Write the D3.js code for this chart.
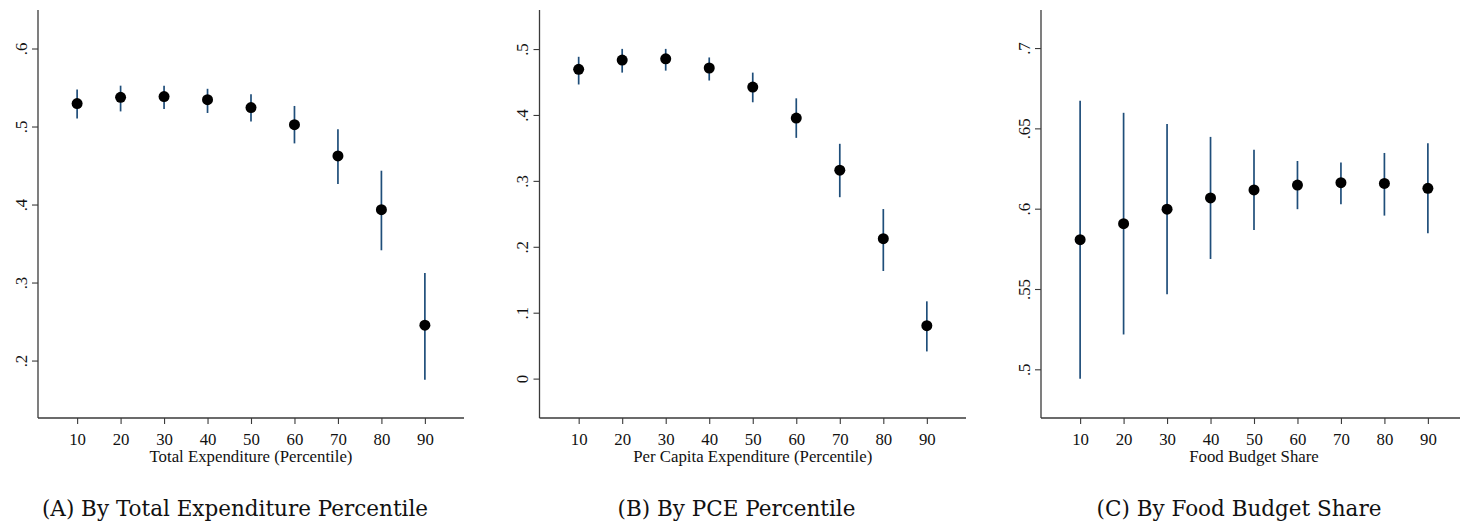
<!DOCTYPE html>
<html>
<head>
<meta charset="utf-8">
<script src="https://cdn.jsdelivr.net/npm/d3@7"></script>
<style>
  body { margin: 0; background: #fff; }
  svg { display: block; }
</style>
</head>
<body>
<svg id="fig" width="1460" height="522"></svg>
<script>
const svg = d3.select("svg#fig");

// percentile bins shared by all three panels
const bins = [10, 20, 30, 40, 50, 60, 70, 80, 90];

// (A) total expenditure percentile
const totEst = [0.530, 0.538, 0.539, 0.535, 0.525, 0.503, 0.463, 0.394, 0.246];
const totLo  = [0.511, 0.520, 0.523, 0.518, 0.507, 0.479, 0.427, 0.342, 0.176];
const totHi  = [0.548, 0.553, 0.553, 0.549, 0.542, 0.527, 0.497, 0.444, 0.313];

// (B) per capita expenditure percentile
const pceEst = [0.470, 0.484, 0.486, 0.472, 0.443, 0.396, 0.317, 0.213, 0.081];
const pceLo  = [0.447, 0.465, 0.468, 0.453, 0.420, 0.366, 0.276, 0.164, 0.042];
const pceHi  = [0.489, 0.501, 0.501, 0.488, 0.465, 0.426, 0.357, 0.258, 0.118];

// (C) food budget share
const foodEst = [0.581, 0.591, 0.600, 0.607, 0.612, 0.615, 0.6165, 0.616, 0.613];
const foodLo  = [0.4945, 0.522, 0.547, 0.569, 0.587, 0.600, 0.603, 0.596, 0.585];
const foodHi  = [0.6675, 0.660, 0.653, 0.645, 0.637, 0.630, 0.629, 0.635, 0.641];

const totTicks  = [0.2, 0.3, 0.4, 0.5, 0.6];
const pceTicks  = [0, 0.1, 0.2, 0.3, 0.4, 0.5];
const foodTicks = [0.5, 0.55, 0.6, 0.65, 0.7];

const xTitles = ["Total Expenditure (Percentile)", "Per Capita Expenditure (Percentile)", "Food Budget Share"];
const captions = ["(A) By Total Expenditure Percentile", "(B) By PCE Percentile", "(C) By Food Budget Share"];

const panels = [
  {left: 38,    right: 464,  ydom: [0.127, 0.65],  ticks: totTicks,  est: totEst,  lo: totLo,  hi: totHi,  cap: 235},
  {left: 539.5, right: 966,  ydom: [-0.059, 0.56], ticks: pceTicks,  est: pceEst,  lo: pceLo,  hi: pceHi,  cap: 736.5},
  {left: 1041,  right: 1467, ydom: [0.470, 0.724], ticks: foodTicks, est: foodEst, lo: foodLo, hi: foodHi, cap: 1239}
];

const plotTop = 10, base = 418;
const axisCol = "#3a3a3a";
const barCol = "#1f4e7a";
const serif = "'Liberation Serif', 'Times New Roman', serif";
const axisFont = "16.8px";

const fmt = v => {
  let s = d3.format(".2~f")(v);
  return s.replace(/^0(?=\.)/, "").replace(/^-0(?=\.)/, "-");
};

panels.forEach(function(p, i) {
  const x = d3.scaleLinear().domain([1, 99]).range([p.left, p.right]);
  const y = d3.scaleLinear().domain(p.ydom).range([base, plotTop]);
  const g = svg.append("g").attr("class", "panel");

  // y axis
  const yAx = g.append("g")
      .attr("transform", "translate(" + p.left + ",0)")
      .call(d3.axisLeft(y).tickValues(p.ticks).tickSize(6).tickFormat(fmt));
  yAx.select(".domain").attr("d", "M0," + plotTop + "V" + base);
  yAx.selectAll("line").attr("stroke", axisCol).attr("stroke-width", 1.1);
  yAx.select(".domain").attr("stroke", axisCol).attr("stroke-width", 1.3);
  yAx.selectAll(".tick").attr("transform", null);
  yAx.selectAll(".tick line").attr("transform", d => "translate(0," + y(d) + ")");
  yAx.selectAll("text")
      .attr("x", null)
      .attr("transform", d => "translate(-17," + y(d) + ") rotate(-90)")
      .attr("y", 0)
      .attr("dy", "0.35em")
      .attr("text-anchor", "middle")
      .style("font-family", serif)
      .style("font-size", axisFont)
      .attr("fill", "#111");

  // x axis
  const xAx = g.append("g")
      .attr("transform", "translate(0," + base + ")")
      .call(d3.axisBottom(x).tickValues(bins).tickSize(6).tickSizeOuter(0).tickFormat(d3.format("d")));
  xAx.select(".domain").attr("stroke", axisCol).attr("stroke-width", 1.3)
      .attr("d", "M" + p.left + ",0H" + p.right);
  xAx.selectAll("line").attr("stroke", axisCol).attr("stroke-width", 1.1);
  xAx.selectAll("text")
      .attr("y", 21).attr("dy", "0.35em")
      .style("font-family", serif)
      .style("font-size", axisFont)
      .attr("fill", "#111");

  g.append("text")
      .attr("x", x(50)).attr("y", 456).attr("dy", "0.35em")
      .attr("text-anchor", "middle")
      .style("font-family", serif)
      .style("font-size", axisFont)
      .attr("fill", "#111")
      .text(xTitles[i]);

  // confidence intervals
  g.append("g").selectAll("line")
      .data(bins)
      .enter().append("line")
        .attr("x1", d => x(d)).attr("x2", d => x(d))
        .attr("y1", (d, j) => y(p.lo[j]))
        .attr("y2", (d, j) => y(p.hi[j]))
        .attr("stroke", barCol)
        .attr("stroke-width", 1.7);

  // point estimates
  g.append("g").selectAll("circle")
      .data(bins)
      .enter().append("circle")
        .attr("cx", d => x(d))
        .attr("cy", (d, j) => y(p.est[j]))
        .attr("r", 5.5)
        .attr("fill", "#000");

  svg.append("text")
      .attr("x", p.cap).attr("y", 508).attr("dy", "0.35em")
      .attr("text-anchor", "middle")
      .style("font-family", "'DejaVu Serif', serif")
      .style("font-size", "21.5px")
      .attr("fill", "#111")
      .text(captions[i]);
});
</script>
</body>
</html>
